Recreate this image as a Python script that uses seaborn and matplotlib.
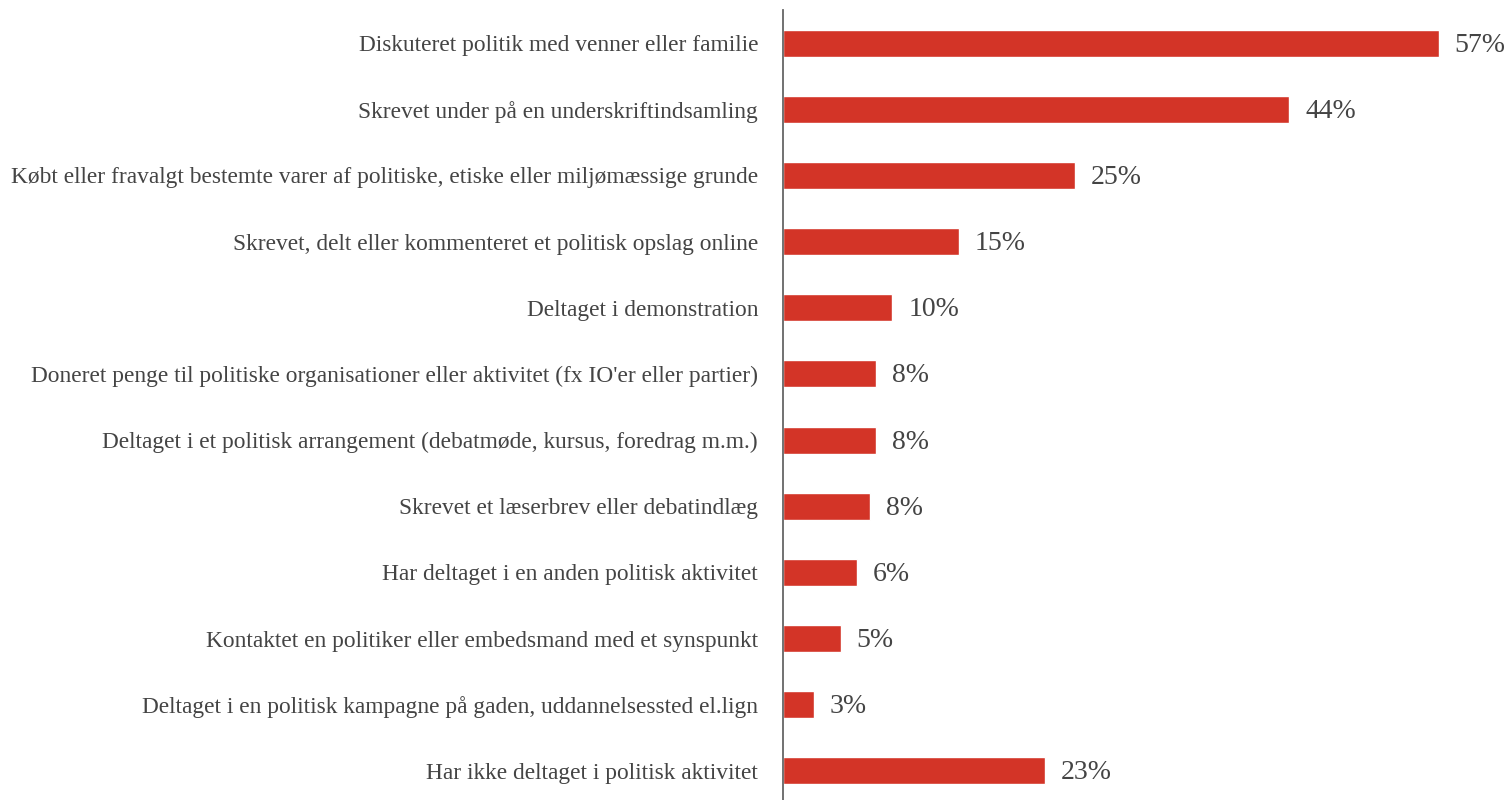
import matplotlib
matplotlib.use("Agg")
import matplotlib.pyplot as plt
import seaborn as sns
import pandas as pd

categories = [
    "Diskuteret politik med venner eller familie",
    "Skrevet under på en underskriftindsamling",
    "Købt eller fravalgt bestemte varer af politiske, etiske eller miljømæssige grunde",
    "Skrevet, delt eller kommenteret et politisk opslag online",
    "Deltaget i demonstration",
    "Doneret penge til politiske organisationer eller aktivitet (fx IO'er eller partier)",
    "Deltaget i et politisk arrangement (debatmøde, kursus, foredrag m.m.)",
    "Skrevet et læserbrev eller debatindlæg",
    "Har deltaget i en anden politisk aktivitet",
    "Kontaktet en politiker eller embedsmand med et synspunkt",
    "Deltaget i en politisk kampagne på gaden, uddannelsessted el.lign",
    "Har ikke deltaget i politisk aktivitet",
]
values = [57.0, 44.0, 25.4, 15.3, 9.5, 8.1, 8.1, 7.6, 6.4, 5.0, 2.7, 22.8]
value_labels = ["57%", "44%", "25%", "15%", "10%", "8%", "8%", "8%", "6%", "5%", "3%", "23%"]

df = pd.DataFrame({"category": categories, "value": values})

sns.set_theme(style="white")
plt.rcParams["font.family"] = ["Liberation Serif", "DejaVu Serif"]

fig = plt.figure(figsize=(15.12, 8.0), dpi=100)
ax = fig.add_axes([783 / 1512, 0.0, 1 - 783 / 1512, 790 / 800])

sns.barplot(data=df, y="category", x="value", color="#d33427", saturation=1,
            width=0.41, orient="h", ax=ax)

px_per_unit = 11.5
ax.set_xlim(0, (1512 - 783) / px_per_unit)
ax.set_ylim(11.44, -0.5)

for i, (v, lab) in enumerate(zip(values, value_labels)):
    ax.annotate(lab, (v, i), xytext=(16, -2), textcoords="offset pixels",
                va="center", ha="left", fontsize=20, color="#444444")

ax.set_xlabel("")
ax.set_ylabel("")
ax.set_xticks([])
ax.tick_params(axis="y", length=0, pad=18, labelsize=16.8, labelcolor="#444444")
for s in ["top", "right", "bottom"]:
    ax.spines[s].set_visible(False)
ax.spines["left"].set_color("#666666")
ax.spines["left"].set_linewidth(1.3)

fig.savefig("out.png", dpi=100)
